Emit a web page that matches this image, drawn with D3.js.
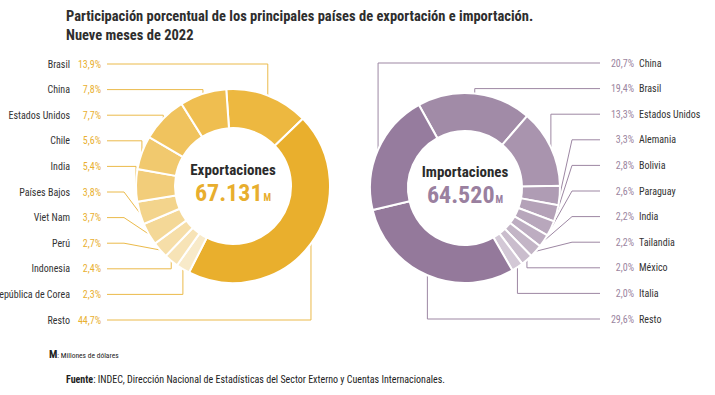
<!DOCTYPE html>
<html>
<head>
<meta charset="utf-8">
<script src="https://cdn.jsdelivr.net/npm/d3@7"></script>
<style>
  body { margin: 0; background: #fff; }
  svg text { font-family: "Liberation Sans Narrow", "Roboto Condensed", "DejaVu Sans Condensed", Roboto, sans-serif; }
</style>
</head>
<body>
<svg id="chart" width="715" height="395"></svg>
<script>
// data
const expCountries = ['Brasil', 'China', 'Estados Unidos', 'Chile', 'India', 'Países Bajos',
  'Viet Nam', 'Perú', 'Indonesia', 'República de Corea', 'Resto'];
const expShares = [13.9, 7.8, 7.7, 5.6, 5.4, 3.8, 3.7, 2.7, 2.4, 2.3, 44.7];
// clockwise order of the sectors in the ring, starting from Brasil
const expRingOrder = ['Brasil', 'Resto', 'República de Corea', 'Indonesia', 'Perú', 'Viet Nam',
  'Países Bajos', 'India', 'Chile', 'Estados Unidos', 'China'];
const expColors = ['#EDB840', '#EFBE50', '#F0C35E', '#F1C96E', '#F2CD7A', '#F3D48C',
  '#F4D897', '#F6DEA8', '#F7E3B6', '#F8EAC9', '#E9AF2D'];
const expTotal = '67.131';

const impCountries = ['China', 'Brasil', 'Estados Unidos', 'Alemania', 'Bolivia', 'Paraguay',
  'India', 'Tailandia', 'México', 'Italia', 'Resto'];
const impShares = [20.7, 19.4, 13.3, 3.3, 2.8, 2.6, 2.2, 2.2, 2.0, 2.0, 29.6];
const impRingOrder = ['Brasil', 'Estados Unidos', 'Alemania', 'Bolivia', 'Paraguay', 'India',
  'Tailandia', 'México', 'Italia', 'Resto', 'China'];
const impColors = ['#967C9E', '#A18BA7', '#A994AE', '#AF9CB4', '#B4A2B8', '#B8A7BC',
  '#BDADC1', '#C3B5C6', '#CABDCD', '#D3C8D6', '#94799B'];
const impTotal = '64.520';

const svg = d3.select('#chart');
const fmt = v => d3.format('.1f')(v).replace('.', ',') + '%';
const rad = deg => deg * Math.PI / 180;

// title
const title = svg.append('text')
  .attr('x', 66).attr('y', 21)
  .attr('font-size', 14.5).attr('font-weight', 'bold').attr('fill', '#2e2e2e');
title.append('tspan').text('Participación porcentual de los principales países de exportación e importación.');
title.append('tspan').attr('x', 66).attr('dy', 19).text('Nueve meses de 2022');

function donut(opt) {
  const data = opt.ring.map(name => {
    const i = opt.countries.indexOf(name);
    return { name: name, value: opt.shares[i], color: opt.colors[i], row: i };
  });
  const pie = d3.pie().sort(null).value(d => d.value)
    .startAngle(rad(opt.start)).endAngle(rad(opt.start) + 2 * Math.PI);
  const arcs = pie(data);
  const arc = d3.arc().innerRadius(opt.r0).outerRadius(opt.r1);
  const rowY = d3.scaleLinear().domain([0, opt.countries.length - 1]).range(opt.rows);

  const g = svg.append('g').attr('transform', `translate(${opt.cx},${opt.cy})`);

  // leader lines: horizontal from the label, then down/up to the ring
  const side = opt.side; // -1 labels on the left, +1 on the right
  const lineStart = opt.lineX - opt.cx;
  const railX = side * (opt.r1 + 12);
  g.selectAll('path.leader').data(arcs).enter().append('path')
    .attr('class', 'leader')
    .attr('fill', 'none')
    .attr('stroke', opt.lineColor)
    .attr('stroke-width', 1)
    .attr('d', d => {
      const mid = (d.startAngle + d.endAngle) / 2;
      const ax = opt.r1 * Math.sin(mid), ay = -opt.r1 * Math.cos(mid);
      const ly = rowY(d.data.row) - opt.cy;
      const p = d3.path();
      p.moveTo(lineStart, ly);
      if (Math.sign(ly) === Math.sign(ay) && Math.abs(ly) >= Math.abs(ay)) {
        p.lineTo(ax, ly);
      } else {
        p.lineTo(railX, ly);
      }
      p.lineTo(ax, ay);
      return p.toString();
    });

  g.selectAll('path.slice').data(arcs).enter().append('path')
    .attr('class', 'slice')
    .attr('d', arc)
    .attr('fill', d => d.data.color)
    .attr('stroke', '#fff')
    .attr('stroke-width', 2);

  // row labels
  const rows = svg.append('g');
  opt.countries.forEach((c, i) => {
    const y = rowY(i);
    rows.append('text')
      .attr('x', opt.nameX).attr('y', y).attr('dy', '0.35em')
      .attr('text-anchor', side < 0 ? 'end' : 'start')
      .attr('font-size', 10).attr('fill', '#333')
      .text(c);
    rows.append('text')
      .attr('x', opt.pctX).attr('y', y).attr('dy', '0.35em')
      .attr('text-anchor', 'end')
      .attr('font-size', 10).attr('fill', opt.pctColor)
      .text(fmt(opt.shares[i]));
  });

  // centre
  g.append('text').attr('y', -11).attr('text-anchor', 'middle')
    .attr('font-size', 15).attr('font-weight', 'bold').attr('fill', '#2b2b2b')
    .text(opt.label);
  const tot = g.append('text').attr('y', 15).attr('text-anchor', 'middle')
    .attr('font-weight', 'bold').attr('fill', opt.totalColor);
  tot.append('tspan').attr('font-size', 24).text(opt.total);
  tot.append('tspan').attr('font-size', 10).attr('dx', 1).text('M');
}

donut({
  cx: 233, cy: 186, r0: 58, r1: 97, start: -4, side: -1,
  countries: expCountries, shares: expShares, ring: expRingOrder, colors: expColors,
  rows: [64, 320], lineX: 107, nameX: 70, pctX: 101,
  lineColor: '#EBBA4A', pctColor: '#E9B030', totalColor: '#E8AE2E',
  label: 'Exportaciones', total: expTotal
});

donut({
  cx: 465, cy: 188, r0: 57, r1: 95, start: -29, side: 1,
  countries: impCountries, shares: impShares, ring: impRingOrder, colors: impColors,
  rows: [63, 319], lineX: 600, nameX: 639, pctX: 634,
  lineColor: '#9D87A3', pctColor: '#9B85A0', totalColor: '#9A809F',
  label: 'Importaciones', total: impTotal
});

// notes
const note = svg.append('text').attr('x', 49).attr('y', 358).attr('fill', '#222');
note.append('tspan').attr('font-size', 11).attr('font-weight', 'bold').text('M');
note.append('tspan').attr('font-size', 7.5).text(': Millones de dólares');

const src = svg.append('text').attr('x', 66).attr('y', 383).attr('font-size', 10).attr('fill', '#222');
src.append('tspan').attr('font-weight', 'bold').text('Fuente');
src.append('tspan').text(': INDEC, Dirección Nacional de Estadísticas del Sector Externo y Cuentas Internacionales.');
</script>
</body>
</html>
